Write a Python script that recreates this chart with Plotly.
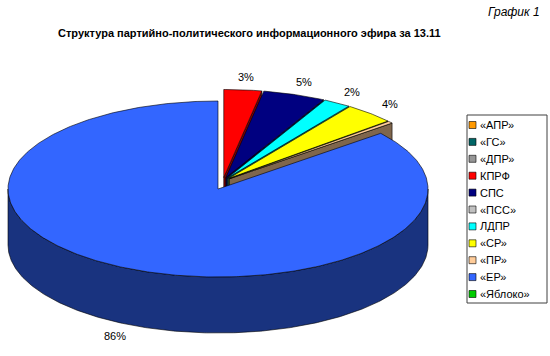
import numpy as np
import plotly.graph_objects as go

# ---- data ----
parties = ["«АПР»", "«ГС»", "«ДПР»", "КПРФ", "СПС", "«ПСС»", "ЛДПР", "«СР»", "«ПР»", "«ЕР»", "«Яблоко»"]
shares = [0.0, 0.0, 0.0, 2.9, 4.8, 0.0, 2.1, 3.9, 0.4, 85.9, 0.0]
colors = ["#FF9900", "#006666", "#969696", "#FF0000", "#000080", "#C0C0C0",
          "#00FFFF", "#FFFF00", "#FFCC99", "#3366FF", "#00CC00"]
exploded = [True, True, True, True, True, True, True, True, True, False, True]
title = "Структура партийно-политического информационного эфира за 13.11"
corner = "График 1"

# ---- geometry (pixel-like data units) ----
CX, CY, RX, RY, DEPTH = 218.0, 189.0, 210.0, 88.0, 56.0
GDX, GDY, E = 5.0, -8.0, 0.04
FONT = "Arial, Liberation Sans, sans-serif"


def darker(hexc, f=0.5):
    h = hexc.lstrip("#")
    r, g, b = (int(h[i:i + 2], 16) for i in (0, 2, 4))
    return "#%02X%02X%02X" % (int(r * f), int(g * f), int(b * f))


def arc(cx, cy, t0, t1, dy=0.0):
    n = max(2, int(abs(t1 - t0) / 0.01) + 2)
    t = np.linspace(t0, t1, n)
    return list(cx + RX * np.sin(t)), list(cy - RY * np.cos(t) + dy)


fig = go.Figure()

frac = np.array(shares) / np.sum(shares)
ends = np.cumsum(frac) * 2 * np.pi
starts = ends - frac * 2 * np.pi

sides = []
tops = []
labels = []
for i, name in enumerate(parties):
    if frac[i] <= 0:
        continue
    t0, t1 = starts[i], ends[i]
    mid = (t0 + t1) / 2
    cx, cy = CX, CY
    if exploded[i]:
        cx = CX + GDX + E * RX * np.sin(mid)
        cy = CY + GDY - E * RY * np.cos(mid)
    col = colors[i]
    dcol = darker(col)
    # outer wall (front half only)
    a, b = max(t0, np.pi / 2), min(t1, 3 * np.pi / 2)
    if b > a:
        xt, yt = arc(cx, cy, a, b)
        xb, yb = arc(cx, cy, b, a, DEPTH)
        sides.append((np.mean(yt), xt + xb + [xt[0]], yt + yb + [yt[0]], dcol))
    # end face at t1
    if np.sin(t1) > 1e-6:
        px, py = cx + RX * np.sin(t1), cy - RY * np.cos(t1)
        sides.append(((cy + py) / 2, [cx, px, px, cx, cx], [cy, py, py + DEPTH, cy + DEPTH, cy], dcol))
    # start face at t0
    if np.sin(t0) < -1e-6:
        px, py = cx + RX * np.sin(t0), cy - RY * np.cos(t0)
        sides.append(((cy + py) / 2, [cx, px, px, cx, cx], [cy, py, py + DEPTH, cy + DEPTH, cy], dcol))
    xa, ya = arc(cx, cy, t0, t1)
    tops.append(([cx] + xa + [cx], [cy] + ya + [cy], col))
    if shares[i] >= 1:
        lx = cx + RX * 1.14 * np.sin(mid)
        ly = cy - RY * 1.15 * np.cos(mid) + (DEPTH if np.cos(mid) < 0 else 0)
        labels.append((lx, ly, f"{round(shares[i])}%"))

for _, xs, ys, c in sorted(sides, key=lambda s: s[0]):
    fig.add_trace(go.Scatter(x=xs, y=ys, mode="lines", fill="toself", fillcolor=c,
                             line=dict(color="#000000", width=0.6), hoverinfo="skip",
                             showlegend=False))
for xs, ys, c in tops:
    fig.add_trace(go.Scatter(x=xs, y=ys, mode="lines", fill="toself", fillcolor=c,
                             line=dict(color="#000000", width=0.6), hoverinfo="skip",
                             showlegend=False))

for lx, ly, txt in labels:
    fig.add_annotation(x=lx, y=ly, text=txt, showarrow=False,
                       font=dict(family=FONT, size=11, color="#000000"))

# ---- manual legend ----
LX0, LX1, LY0, LY1 = 467, 547, 115, 303
shapes = [dict(type="rect", xref="x", yref="y", x0=LX0, x1=LX1, y0=LY0, y1=LY1,
               line=dict(color="#404040", width=1), fillcolor="rgba(0,0,0,0)")]
step = 16.9
for i, name in enumerate(parties):
    yc = 125 + i * step
    shapes.append(dict(type="rect", xref="x", yref="y", x0=469, x1=476, y0=yc - 3.5, y1=yc + 3.5,
                       line=dict(color="#000000", width=0.6), fillcolor=colors[i]))
    fig.add_annotation(x=478, y=yc, text=name, showarrow=False, xanchor="left", yanchor="middle",
                       font=dict(family=FONT, size=11, color="#000000"))

fig.add_annotation(x=249, y=33, text=f"<b>{title}</b>", showarrow=False,
                   font=dict(family=FONT, size=11, color="#000000"))
fig.add_annotation(x=542, y=12, text=f"<i>{corner}</i>", showarrow=False, xanchor="right",
                   font=dict(family=FONT, size=12, color="#000000"))

fig.update_layout(
    width=550, height=356, margin=dict(l=0, r=0, t=0, b=0),
    paper_bgcolor="white", plot_bgcolor="white", shapes=shapes, showlegend=False,
    xaxis=dict(range=[0, 550], visible=False, fixedrange=True),
    yaxis=dict(range=[356, 0], visible=False, fixedrange=True),
)
fig.write_html("out.html")
